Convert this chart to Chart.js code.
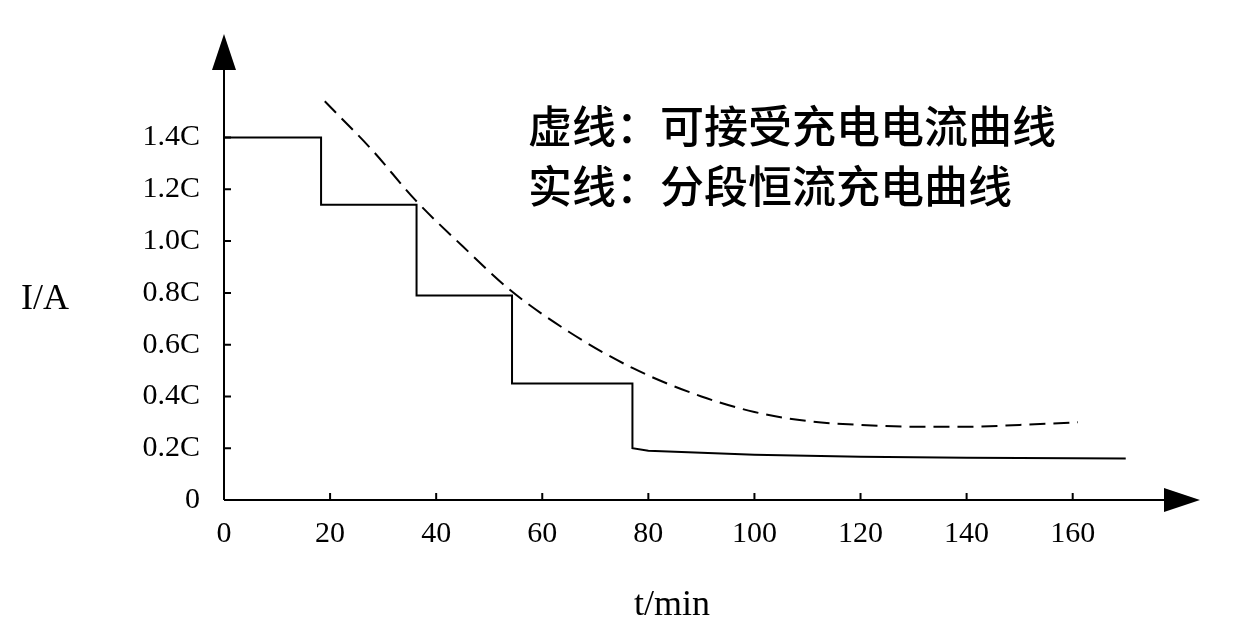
<!DOCTYPE html>
<html><head><meta charset="utf-8">
<script src="https://cdn.jsdelivr.net/npm/chart.js@4"></script>
<style>html,body{margin:0;background:#fff}#wrap{width:1248px;height:640px}</style>
</head><body><div id="wrap"><canvas id="c"></canvas></div>
<script>
const solidT = [0, 18.3, 18.3, 36.3, 36.3, 54.3, 54.3, 77, 77, 80, 100, 120, 140, 170]
const solidI = [1.4, 1.4, 1.14, 1.14, 0.79, 0.79, 0.45, 0.45, 0.2, 0.19, 0.175, 0.167, 0.163, 0.16]
const dashT = [19, 28, 36, 45, 54, 65, 77, 90, 100, 110, 120, 130, 140, 150, 161]
const dashI = [1.54, 1.35, 1.16, 0.98, 0.81, 0.65, 0.51, 0.4, 0.34, 0.305, 0.29, 0.283, 0.283, 0.29, 0.30]
const xTicks = [0, 20, 40, 60, 80, 100, 120, 140, 160]
const yTicks = [0, 0.2, 0.4, 0.6, 0.8, 1.0, 1.2, 1.4]
const legendLines = ['虚线：可接受充电电流曲线', '实线：分段恒流充电曲线']

const toPts = (xs, ys) => xs.map((x, i) => ({ x: x, y: ys[i] }))
const serif = '"Liberation Serif", "DejaVu Serif", serif'

const axesPlugin = {
    id: 'axes',
    afterDraw(chart) {
        const ctx = chart.ctx
        const { left, right, top, bottom } = chart.chartArea
        const xs = chart.scales.x, ys = chart.scales.y
        ctx.save()
        ctx.strokeStyle = '#000'
        ctx.fillStyle = '#000'
        ctx.lineWidth = 2
        ctx.beginPath()
        ctx.moveTo(left, bottom); ctx.lineTo(right - 30, bottom)
        ctx.moveTo(left, bottom); ctx.lineTo(left, top + 30)
        xTicks.forEach(t => { const px = xs.getPixelForValue(t); ctx.moveTo(px, bottom); ctx.lineTo(px, bottom - 7) })
        yTicks.forEach(t => { const py = ys.getPixelForValue(t); ctx.moveTo(left, py); ctx.lineTo(left + 7, py) })
        ctx.stroke()
        // arrows
        ctx.beginPath()
        ctx.moveTo(right, bottom); ctx.lineTo(right - 36, bottom - 12); ctx.lineTo(right - 36, bottom + 12); ctx.closePath()
        ctx.moveTo(left, top); ctx.lineTo(left - 12, top + 36); ctx.lineTo(left + 12, top + 36); ctx.closePath()
        ctx.fill()
        ctx.font = '36px ' + serif
        ctx.textAlign = 'center'
        ctx.textBaseline = 'middle'
        ctx.fillText('I/A', 45, 300)
        ctx.fillText('t/min', 672, 606)
        ctx.font = '500 44px "Noto Sans CJK SC"'
        ctx.textAlign = 'left'
        legendLines.forEach((s, i) => ctx.fillText(s, 528, 126 + i * 60))
        ctx.restore()
    }
}

new Chart(document.getElementById('c'), {
    type: 'scatter',
    data: {
        datasets: [{
            data: toPts(solidT, solidI),
            showLine: true, borderColor: '#000', borderWidth: 2, pointRadius: 0, tension: 0
        }, {
            data: toPts(dashT, dashI),
            showLine: true, borderColor: '#000', borderWidth: 2, pointRadius: 0,
            borderDash: [16, 8], cubicInterpolationMode: 'monotone'
        }]
    },
    plugins: [axesPlugin],
    options: {
        responsive: true, maintainAspectRatio: false, animation: false,
        layout: { padding: { top: 13, right: 48, left: 0, bottom: 0 } },
        plugins: { legend: { display: false }, tooltip: { enabled: false } },
        scales: {
            x: {
                type: 'linear', min: 0, max: 184,
                afterBuildTicks: s => { s.ticks = xTicks.map(v => ({ value: v })) },
                afterFit: s => { s.height = 140 },
                grid: { display: false }, border: { display: false },
                ticks: { color: '#000', font: { family: serif, size: 30 }, padding: 8, maxRotation: 0 }
            },
            y: {
                type: 'linear', min: 0, max: 1.8,
                afterBuildTicks: s => { s.ticks = yTicks.map(v => ({ value: v })) },
                afterFit: s => { s.width = 224 },
                grid: { display: false }, border: { display: false },
                ticks: { color: '#000', font: { family: serif, size: 30 }, padding: 16,
                    callback: v => v === 0 ? '0' : v.toFixed(1) + 'C' }
            }
        }
    }
})
</script></body></html>
